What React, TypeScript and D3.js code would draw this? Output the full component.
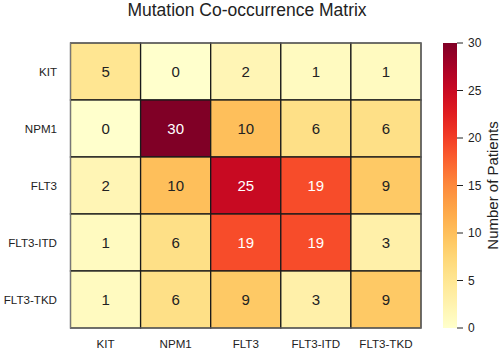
import React from "react";
import * as d3 from "d3";

const genes = ["KIT", "NPM1", "FLT3", "FLT3-ITD", "FLT3-TKD"];
const matrix: number[][] = [
  [5, 0, 2, 1, 1],
  [0, 30, 10, 6, 6],
  [2, 10, 25, 19, 9],
  [1, 6, 19, 19, 3],
  [1, 6, 9, 3, 9],
];
const cbTicks = [0, 5, 10, 15, 20, 25, 30];

export default function App() {
  const W = 500, H = 353;
  const left = 70.5, right = 421, top = 43, bottom = 328;
  const x = d3.scaleBand<string>().domain(genes).range([left, right]);
  const y = d3.scaleBand<string>().domain(genes).range([top, bottom]);
  const color = d3.scaleSequential(d3.interpolateYlOrRd).domain([0, 30]);
  const cbX = 443, cbW = 14;
  const cy = d3.scaleLinear().domain([0, 30]).range([bottom, top]);
  const stops = d3.range(0, 1.0001, 0.05);
  const font = "Liberation Sans, Arial, sans-serif";
  return (
    <svg width={W} height={H} style={{ position: "absolute", left: 0, top: 0 }} fontFamily={font}>
      <defs>
        <linearGradient id="cb" x1="0" y1="1" x2="0" y2="0">
          {stops.map((s) => (
            <stop key={s} offset={s} stopColor={color(s * 30)} />
          ))}
        </linearGradient>
      </defs>
      <rect width={W} height={H} fill="white" />
      <text x={247} y={16} textAnchor="middle" fontSize={17.5} fill="#222">
        Mutation Co-occurrence Matrix
      </text>
      {matrix.map((row, i) =>
        row.map((v, j) => (
          <g key={`${i}-${j}`}>
            <rect
              x={x(genes[j])}
              y={y(genes[i])}
              width={x.bandwidth()}
              height={y.bandwidth()}
              fill={color(v)}
              stroke="#1a1a1a"
              strokeWidth={1.3}
            />
            <text
              x={x(genes[j])! + x.bandwidth() / 2}
              y={y(genes[i])! + y.bandwidth() / 2}
              dy="0.35em"
              textAnchor="middle"
              fontSize={15}
              fill={v >= 15 ? "white" : "#222"}
            >
              {v}
            </text>
          </g>
        ))
      )}
      <rect x={left} y={top} width={right - left} height={bottom - top} fill="none" stroke="#777" strokeWidth={1} />
      {genes.map((g) => (
        <text key={"y" + g} x={57} y={y(g)! + y.bandwidth() / 2} dy="0.35em" textAnchor="end" fontSize={11.6} fill="#222">
          {g}
        </text>
      ))}
      {genes.map((g) => (
        <text key={"x" + g} x={x(g)! + x.bandwidth() / 2} y={348} textAnchor="middle" fontSize={11.6} fill="#222">
          {g}
        </text>
      ))}
      <rect x={cbX} y={top} width={cbW} height={bottom - top} fill="url(#cb)" />
      {cbTicks.map((t) => (
        <g key={"t" + t}>
          <line x1={cbX + cbW} x2={cbX + cbW + 6} y1={cy(t)} y2={cy(t)} stroke="#222" strokeWidth={1} />
          <text x={cbX + cbW + 11} y={cy(t)} dy="0.35em" fontSize={12} fill="#222">
            {t}
          </text>
        </g>
      ))}
      <text
        transform={`translate(498,${(top + bottom) / 2}) rotate(-90)`}
        textAnchor="middle"
        fontSize={15}
        fill="#222"
      >
        Number of Patients
      </text>
    </svg>
  );
}
